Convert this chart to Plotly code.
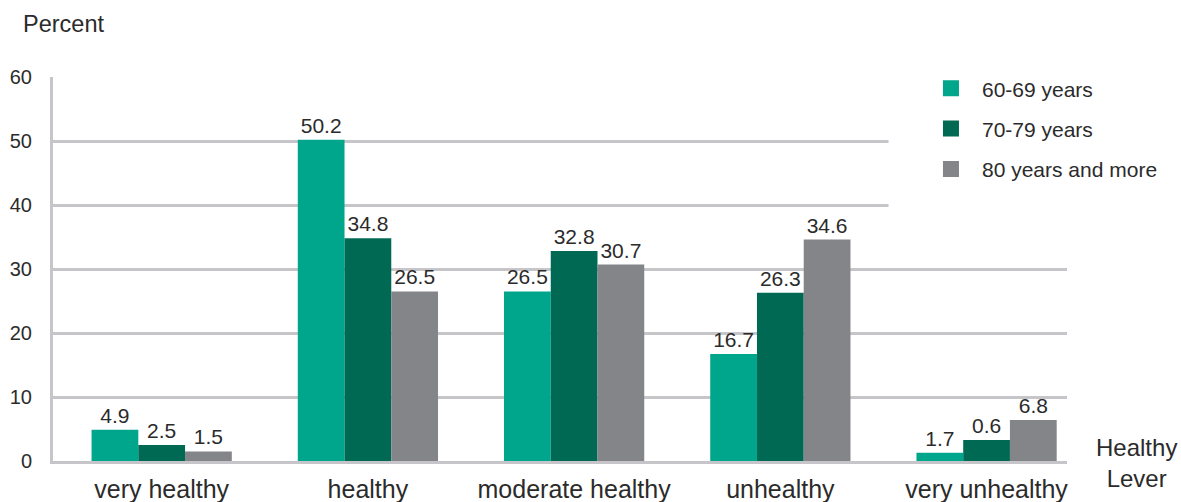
import plotly.graph_objects as go

categories = ["very healthy", "healthy", "moderate healthy", "unhealthy", "very unhealthy"]
series_names = ["60-69 years", "70-79 years", "80 years and more"]

# printed values (labels on the bars)
labels_60_69 = [4.9, 50.2, 26.5, 16.7, 1.7]
labels_70_79 = [2.5, 34.8, 32.8, 26.3, 0.6]
labels_80_plus = [1.5, 26.5, 30.7, 34.6, 6.8]

# bar heights as drawn in the picture (the last group is drawn differently from its labels)
heights_60_69 = [4.9, 50.2, 26.5, 16.7, 1.3]
heights_70_79 = [2.5, 34.8, 32.8, 26.3, 3.3]
heights_80_plus = [1.5, 26.5, 30.7, 34.6, 6.4]

colors = ["#00a68b", "#006953", "#848588"]
tick_vals = [0, 10, 20, 30, 40, 50, 60]

FONT = "Liberation Sans, Arial, sans-serif"
TXT = "#2b2b2b"
GRID = "#c6c6ca"

fig = go.Figure()
for name, h, lab, col in zip(series_names,
                             [heights_60_69, heights_70_79, heights_80_plus],
                             [labels_60_69, labels_70_79, labels_80_plus],
                             colors):
    fig.add_trace(go.Bar(
        x=categories, y=h, name=name, marker=dict(color=col, line=dict(width=0)),
        text=[f"{v:.1f}" for v in lab], textposition="outside", constraintext="none",
        textfont=dict(size=21, color=TXT, family=FONT), cliponaxis=False,
        showlegend=False, legendgroup=name,
    ))
    # legend entry with larger square
    fig.add_trace(go.Scatter(
        x=[None], y=[None], mode="markers", name=name, legendgroup=name,
        marker=dict(symbol="square", size=18, color=col),
    ))

fig.update_layout(
    width=1181, height=502,
    margin=dict(l=53, r=114, t=77, b=41, autoexpand=False),
    paper_bgcolor="white", plot_bgcolor="white",
    barmode="group", bargap=0.32, bargroupgap=0,
    font=dict(family=FONT, color=TXT),
    legend=dict(
        x=0.855, xanchor="left", y=1.023, yanchor="top",
        font=dict(size=21, color=TXT, family=FONT),
        bgcolor="rgba(0,0,0,0)", itemwidth=52, tracegroupgap=10,
        itemclick=False, itemdoubleclick=False,
    ),
    xaxis=dict(
        type="category", range=[-0.527, 4.39], showgrid=False, automargin=False,
        showline=True, linecolor=GRID, linewidth=3, ticks="",
        tickfont=dict(size=25, color=TXT, family=FONT), ticklabelstandoff=4,
    ),
    yaxis=dict(
        range=[0, 60], tickvals=tick_vals, showgrid=True, gridcolor=GRID, gridwidth=2.5,
        automargin=False,
        showline=True, linecolor=GRID, linewidth=3, zeroline=False, ticks="",
        tickfont=dict(size=20, color=TXT, family=FONT), ticklabelstandoff=14,
    ),
    shapes=[dict(type="rect", xref="paper", yref="paper", x0=0.824, x1=1.02,
                 y0=0.589, y1=1.03, fillcolor="white", line=dict(width=0), layer="above")],
    annotations=[
        dict(text="Percent", xref="paper", yref="paper", x=-0.032, y=1.138,
             xanchor="left", yanchor="middle", showarrow=False,
             font=dict(size=23.5, color=TXT, family=FONT)),
        dict(text="Healthy<br>Lever", xref="paper", yref="paper", x=1.069, y=-0.005,
             xanchor="center", yanchor="middle", align="center", showarrow=False,
             font=dict(size=24, color=TXT, family=FONT)),
    ],
)

fig.write_html("out.html",
               config={"displayModeBar": False},
               post_script="document.body.style.margin='0';document.body.style.overflow='hidden';")
